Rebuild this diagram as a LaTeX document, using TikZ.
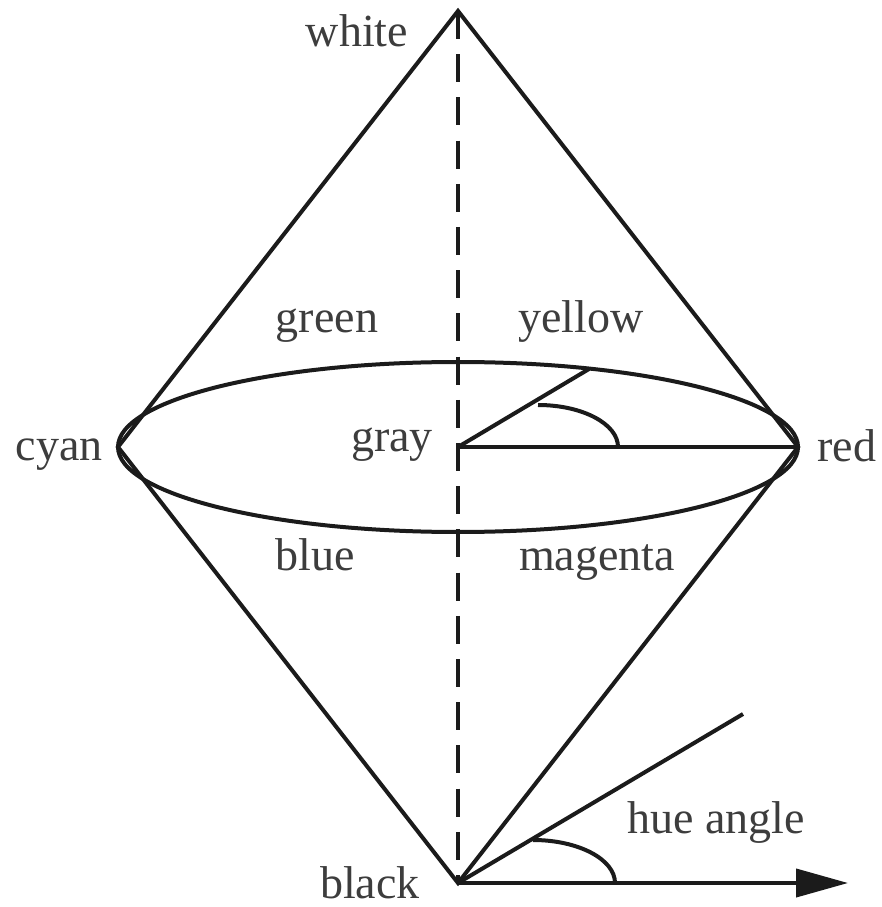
\documentclass[tikz,border=0pt]{standalone}
\usepackage{fontspec}
\setmainfont{Liberation Serif}
\usetikzlibrary{arrows.meta}
\definecolor{ink}{HTML}{1B1B1B}
\tikzset{
  edge/.style={draw=ink, line width=1pt},
  axisline/.style={draw=ink, line width=0.85pt, dash pattern=on 7pt off 3.8pt},
  lbl/.style={anchor=base, inner sep=0pt, font=\fontsize{11.5}{13}\selectfont, text=ink!85},
}
\begin{document}
\begin{tikzpicture}[x=0.25pt, y=-0.25pt]
\useasboundingbox (0,0) rectangle (881,907);
% corners of the double cone
\coordinate (white) at (458,11);
\coordinate (black) at (458,883);
\coordinate (cyan) at (118,447);
\coordinate (red) at (798,447);
\coordinate (gray) at (458,447);
\coordinate (yel) at (589,369);
\coordinate (hue) at (743,714);
\coordinate (tip) at (848,883);
\draw[axisline] (white) -- (black);
\draw[edge] (cyan) -- (white) -- (red) -- (black) -- cycle;
\draw[edge] (gray) ellipse[x radius=340, y radius=85];
\draw[edge] (gray) -- (red);
\draw[edge] (gray) -- (yel);
\draw[edge] (618,447) arc[start angle=0, end angle=-90, x radius=80, y radius=42];
\draw[edge] (black) -- (hue);
\draw[edge, -{Triangle[length=13pt, width=7pt]}] (black) -- (tip);
\draw[edge] (615,883) arc[start angle=0, end angle=-90, x radius=82, y radius=43];
% labels
\node[lbl] (lwhite) at (357,47) {white};
\node[lbl] (lgreen) at (327,333) {green};
\node[lbl] (lyellow) at (581,333) {yellow};
\node[lbl] (lcyan) at (59,460) {cyan};
\node[lbl] (lgray) at (392,452) {gray};
\node[lbl] (lred) at (847,462) {red};
\node[lbl] (lblue) at (315,570) {blue};
\node[lbl] (lmagenta) at (597,570) {magenta};
\node[lbl] (lhue) at (716,833) {hue angle};
\node[lbl] (lblack) at (370,898) {black};
\end{tikzpicture}
\end{document}
